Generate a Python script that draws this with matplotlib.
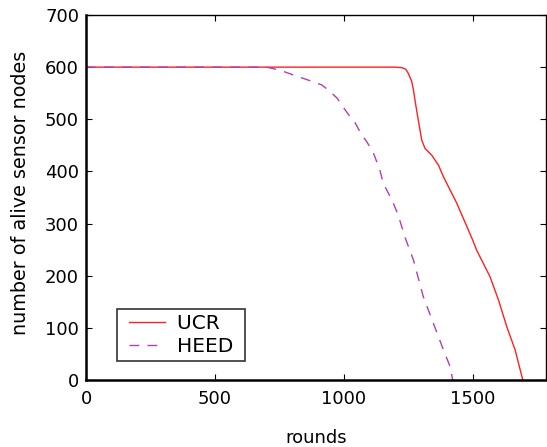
import matplotlib
matplotlib.use("Agg")
import matplotlib.pyplot as plt
from matplotlib.legend_handler import HandlerLine2D

ucr_x = [0, 1140, 1200, 1225, 1240, 1250, 1263, 1270, 1280, 1293, 1302, 1315, 1341, 1367, 1386, 1438, 1500, 1515, 1567, 1600, 1632, 1664, 1694]
ucr_y = [600, 600, 600, 599, 596, 588, 573, 556, 524, 486, 460, 444, 431, 412, 390, 339, 268, 249, 198, 153, 102, 58, 0]

heed_x = [0, 636, 700, 727, 759, 804, 863, 914, 940, 975, 992, 1024, 1043, 1069, 1089, 1115, 1140, 1153, 1173, 1192, 1211, 1237, 1270, 1308, 1347, 1386, 1412, 1422]
heed_y = [600, 600, 600, 597, 593, 585, 575, 566, 556, 540, 527, 505, 494, 470, 457, 435, 402, 377, 358, 339, 316, 274, 230, 160, 109, 58, 26, 0]

xticks = [0, 500, 1000, 1500]
yticks = [0, 100, 200, 300, 400, 500, 600, 700]
series_names = ['UCR', 'HEED']

plt.rcParams['font.family'] = ['DejaVu Sans']
fs = 13
fig = plt.figure(figsize=(5.47, 4.47), dpi=100)
ax = fig.add_axes([86/547, 67/447, 460/547, 365/447])
l1, = ax.plot(ucr_x, ucr_y, color='#ff2020', lw=1.0)
l2, = ax.plot(heed_x, heed_y, color='#b040b0', lw=1.0, ls=(0, (7, 6)))
ax.set_xlim(0, 1784)
ax.set_ylim(0, 700)
ax.set_xticks(xticks)
ax.set_yticks(yticks)
ax.tick_params(direction='in', top=True, right=True, labelsize=fs, length=4)
ax.tick_params(axis='x', pad=7)
ax.tick_params(axis='y', pad=5)
for s in ['left', 'bottom']:
    ax.spines[s].set_linewidth(1.8)
for s in ['top', 'right']:
    ax.spines[s].set_linewidth(1.0)
ax.set_xlabel('rounds', fontsize=fs, labelpad=15)
ax.set_ylabel('number of alive sensor nodes', fontsize=13.8)
ax.yaxis.set_label_coords(-0.122, 0.514)
hm = {l1: HandlerLine2D(xpad=0.35), l2: HandlerLine2D(xpad=0.35)}
leg = ax.legend([l1, l2], [n + ' ' for n in series_names], handler_map=hm,
                loc='lower left', bbox_to_anchor=(31/460, 19/365), fontsize=14.5,
                frameon=True, fancybox=False, borderpad=0.25, handlelength=2.15,
                labelspacing=0.2, borderaxespad=0, handletextpad=0.6)
leg.get_frame().set_edgecolor('black')
leg.get_frame().set_linewidth(1.2)
fig.savefig('out.png', dpi=100)
